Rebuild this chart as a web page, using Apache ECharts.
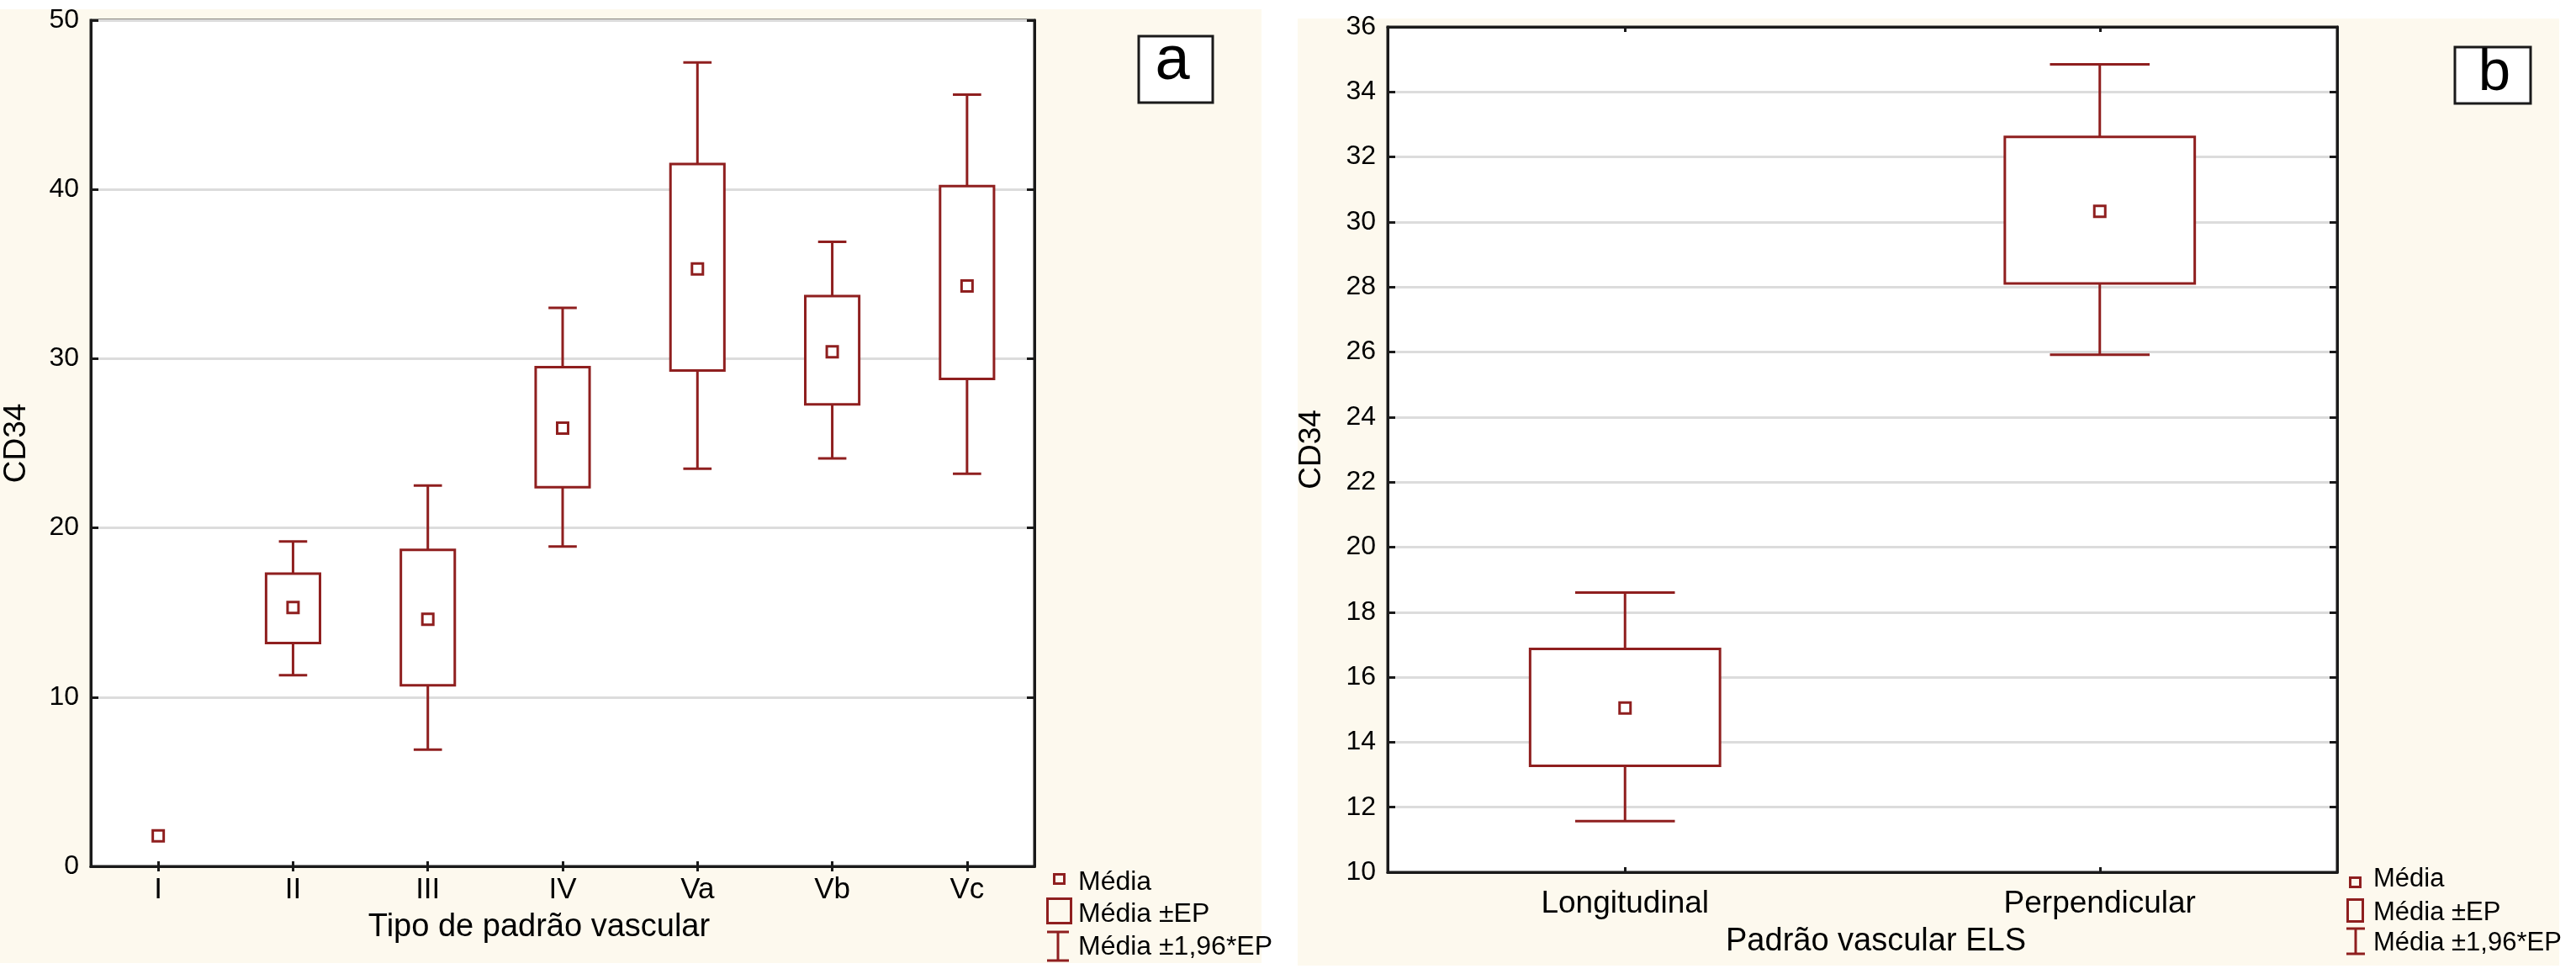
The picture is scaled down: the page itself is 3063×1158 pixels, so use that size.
<!DOCTYPE html>
<html>
<head>
<meta charset="utf-8">
<script src="https://cdn.jsdelivr.net/npm/echarts@6/dist/echarts.min.js"></script>
<style>
html,body{margin:0;padding:0;background:#ffffff;}
#chart{width:3063px;height:1158px;}
</style>
</head>
<body>
<div id="chart"></div>
<script>
// ---------- data ----------
const categoriesA = ['I', 'II', 'III', 'IV', 'Va', 'Vb', 'Vc'];
const meanA   = [1.8, 15.3, 14.6, 25.9, 35.3, 30.4, 34.3];
const seLowA  = [1.8, 13.2, 10.7, 22.4, 29.3, 27.3, 28.8];
const seHighA = [1.8, 17.3, 18.7, 29.5, 41.5, 33.7, 40.2];
const ciLowA  = [1.8, 11.3, 6.9, 18.9, 23.5, 24.1, 23.2];
const ciHighA = [1.8, 19.2, 22.5, 33.0, 47.5, 36.9, 45.6];

const categoriesB = ['Longitudinal', 'Perpendicular'];
const meanB   = [15.05, 30.33];
const seLowB  = [13.27, 28.11];
const seHighB = [16.87, 32.62];
const ciLowB  = [11.57, 25.92];
const ciHighB = [18.60, 34.85];

const axisA = { min: 0, max: 50, interval: 10 };
const axisB = { min: 10, max: 36, interval: 2 };

const legendNames = ['Média', 'Média ±EP', 'Média ±1,96*EP'];
const panelLetters = ['a', 'b'];
const axisTitlesA = { x: 'Tipo de padrão vascular', y: 'CD34' };
const axisTitlesB = { x: 'Padrão vascular ELS', y: 'CD34' };

// ---------- styles ----------
const RED = '#8f1f1f';
const FONT = '"Liberation Sans", Arial, Helvetica, sans-serif';
const CREAM = '#fdf9ee';

function rangeData(lo, hi) { return lo.map((v, i) => [i, v, hi[i]]); }

function renderBox(params, api) {
  const x = api.value(0), lo = api.value(1), hi = api.value(2);
  if (!(hi > lo)) return null;
  const t = api.coord([x, hi]), b = api.coord([x, lo]);
  const w = api.size([1, 0])[0] * 0.40;
  return {
    type: 'rect',
    shape: { x: t[0] - w / 2, y: t[1], width: w, height: b[1] - t[1] },
    style: { fill: '#ffffff', stroke: RED, lineWidth: 3 }
  };
}
function renderWhisker(params, api) {
  const x = api.value(0), lo = api.value(1), hi = api.value(2);
  if (!(hi > lo)) return null;
  const t = api.coord([x, hi]), b = api.coord([x, lo]);
  const c = api.size([1, 0])[0] * 0.21 / 2;
  const st = { stroke: RED, lineWidth: 3 };
  return {
    type: 'group',
    children: [
      { type: 'line', shape: { x1: t[0], y1: t[1], x2: b[0], y2: b[1] }, style: st },
      { type: 'line', shape: { x1: t[0] - c, y1: t[1], x2: t[0] + c, y2: t[1] }, style: st },
      { type: 'line', shape: { x1: b[0] - c, y1: b[1], x2: b[0] + c, y2: b[1] }, style: st }
    ]
  };
}

function xAxes(gridIndex, cats, labelSize, labelMargin, name, nameGap, namePad) {
  const common = {
    type: 'category', gridIndex: gridIndex, data: cats, boundaryGap: true, z: 5,
    axisLine: { show: true, lineStyle: { color: '#1a1a1a', width: 3 } },
    axisTick: { show: true, inside: true, length: 6, alignWithLabel: true, lineStyle: { color: '#1a1a1a', width: 3 } },
    splitLine: { show: false }
  };
  return [
    Object.assign({}, common, {
      position: 'bottom',
      axisLabel: { show: true, fontSize: labelSize, fontFamily: FONT, color: '#000', margin: labelMargin },
      name: name, nameLocation: 'middle', nameGap: nameGap,
      nameTextStyle: { fontSize: 38, fontFamily: FONT, color: '#000', padding: namePad }
    }),
    Object.assign({}, common, { position: 'top', axisLabel: { show: false } })
  ];
}
function yAxes(gridIndex, rng, name, nameGap) {
  const common = {
    type: 'value', gridIndex: gridIndex, min: rng.min, max: rng.max, interval: rng.interval,
    axisLine: { show: true, lineStyle: { color: '#1a1a1a', width: 3 } },
    axisTick: { show: true, inside: true, length: 9, lineStyle: { color: '#1a1a1a', width: 3 } }
  };
  return [
    Object.assign({}, common, {
      position: 'left', z: 0,
      axisLabel: { show: true, fontSize: 32, fontFamily: FONT, color: '#000', margin: 14 },
      splitLine: { show: true, lineStyle: { color: '#dcdcdc', width: 3 } },
      name: name, nameLocation: 'middle', nameGap: nameGap, nameRotate: 90,
      nameTextStyle: { fontSize: 37, fontFamily: FONT, color: '#000' }
    }),
    Object.assign({}, common, {
      position: 'right', z: 5,
      axisLabel: { show: false }, splitLine: { show: false }
    })
  ];
}

const xa = xAxes(0, categoriesA, 35, 11, axisTitlesA.x, 54, [0, 56, 0, 0]);
const xb = xAxes(1, categoriesB, 37, 19, axisTitlesB.x, 64, [0, 0, 0, 32]);
const ya = yAxes(0, axisA, axisTitlesA.y, 70);
const yb = yAxes(1, axisB, axisTitlesB.y, 72);

function panelSeries(xi, yi, mean, seLo, seHi, ciLo, ciHi) {
  return [
    { name: legendNames[2], type: 'custom', xAxisIndex: xi, yAxisIndex: yi, z: 2,
      renderItem: renderWhisker, encode: { x: 0, y: [1, 2] }, data: rangeData(ciLo, ciHi) },
    { name: legendNames[1], type: 'custom', xAxisIndex: xi, yAxisIndex: yi, z: 3,
      renderItem: renderBox, encode: { x: 0, y: [1, 2] }, data: rangeData(seLo, seHi) },
    { name: legendNames[0], type: 'scatter', xAxisIndex: xi, yAxisIndex: yi, z: 4,
      symbol: 'rect', symbolSize: 13,
      itemStyle: { color: '#ffffff', borderColor: RED, borderWidth: 3, opacity: 1 },
      data: mean }
  ];
}

function legendGraphic(cfg) {
  const st = { stroke: RED, lineWidth: 3, fill: 'none' };
  const items = [
    { type: 'rect', z: 20, shape: cfg.sq, style: st },
    { type: 'rect', z: 20, shape: cfg.box, style: st },
    { type: 'line', z: 20, shape: { x1: cfg.wx, y1: cfg.wy1, x2: cfg.wx, y2: cfg.wy2 }, style: st },
    { type: 'line', z: 20, shape: { x1: cfg.wx - cfg.wc, y1: cfg.wy1, x2: cfg.wx + cfg.wc, y2: cfg.wy1 }, style: st },
    { type: 'line', z: 20, shape: { x1: cfg.wx - cfg.wc, y1: cfg.wy2, x2: cfg.wx + cfg.wc, y2: cfg.wy2 }, style: st }
  ];
  legendNames.forEach((n, i) => {
    items.push({ type: 'text', z: 20, x: cfg.tx, y: cfg.ty[i],
      style: { text: n, fill: '#000', font: cfg.fs + 'px ' + FONT, verticalAlign: 'middle', align: 'left' } });
  });
  return items;
}

const graphics = [
  { type: 'rect', z: -1, shape: { x: 0, y: 11, width: 1500, height: 1134 }, style: { fill: CREAM } },
  { type: 'rect', z: -1, shape: { x: 1543, y: 22, width: 1500, height: 1126 }, style: { fill: CREAM } },
  { type: 'rect', z: 20, shape: { x: 1354, y: 43, width: 88, height: 79 }, style: { fill: '#fff', stroke: '#1a1a1a', lineWidth: 3 } },
  { type: 'text', z: 21, x: 1394, y: 74, style: { text: panelLetters[0], fill: '#000', font: '74px ' + FONT, align: 'center', verticalAlign: 'middle' } },
  { type: 'rect', z: 20, shape: { x: 2919, y: 56, width: 90, height: 67 }, style: { fill: '#fff', stroke: '#1a1a1a', lineWidth: 3 } },
  { type: 'text', z: 21, x: 2966, y: 88, style: { text: panelLetters[1], fill: '#000', font: '69px ' + FONT, align: 'center', verticalAlign: 'middle' } }
].concat(
  legendGraphic({ sq: { x: 1253.5, y: 1039.5, width: 12, height: 11 },
                  box: { x: 1245.5, y: 1068.5, width: 28, height: 29 },
                  wx: 1258, wy1: 1108, wy2: 1142, wc: 13,
                  tx: 1282, ty: [1049, 1087, 1126], fs: 32 }),
  legendGraphic({ sq: { x: 2794.5, y: 1043.5, width: 12, height: 11 },
                  box: { x: 2791.5, y: 1069.5, width: 18, height: 26 },
                  wx: 2801, wy1: 1104, wy2: 1134, wc: 11,
                  tx: 2822, ty: [1045, 1085, 1121], fs: 31 })
);

const chart = echarts.init(document.getElementById('chart'), null, { renderer: 'canvas' });
chart.setOption({
  backgroundColor: '#ffffff',
  animation: false,
  textStyle: { fontFamily: FONT },
  grid: [
    { left: 108, top: 24, width: 1122, height: 1006, show: true, backgroundColor: '#ffffff', borderColor: '#1a1a1a', borderWidth: 3, containLabel: false },
    { left: 1650, top: 32, width: 1129, height: 1005, show: true, backgroundColor: '#ffffff', borderColor: '#1a1a1a', borderWidth: 3, containLabel: false }
  ],
  xAxis: xa.concat(xb),
  yAxis: ya.concat(yb),
  series: panelSeries(0, 0, meanA, seLowA, seHighA, ciLowA, ciHighA)
    .concat(panelSeries(2, 2, meanB, seLowB, seHighB, ciLowB, ciHighB)),
  graphic: graphics
});
</script>
</body>
</html>
